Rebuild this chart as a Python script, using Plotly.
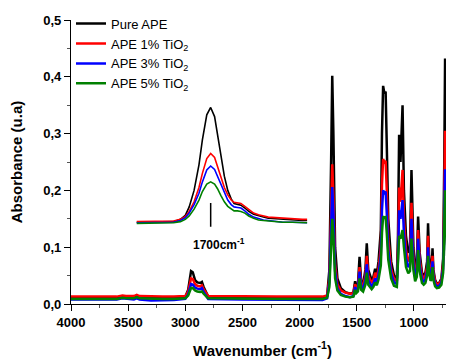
import plotly.graph_objects as go

# ---------------- data ----------------
wavenumber = [4000, 3800, 3600, 3550, 3520, 3450, 3425, 3400, 3300, 3200, 3100, 3000,
              2975, 2950, 2935, 2915, 2895, 2870, 2855, 2840, 2800, 2500, 2200, 2000,
              1900, 1800, 1760, 1740, 1725, 1715, 1705, 1690, 1670, 1640, 1600, 1560,
              1530, 1515, 1505, 1490, 1476, 1462, 1445, 1425, 1413, 1400, 1370, 1355,
              1340, 1325, 1310, 1290, 1280, 1270, 1258, 1248, 1238, 1225, 1200, 1175,
              1150, 1140, 1130, 1118, 1100, 1088, 1070, 1050, 1035, 1022, 1005, 990,
              975, 964, 950, 930, 915, 900, 885, 877, 868, 855, 845, 838, 830, 815,
              800, 780, 760, 745, 735, 728, 720, 710, 700, 680, 650]

pure_ape = [0.010, 0.010, 0.011, 0.013, 0.012, 0.012, 0.014, 0.012, 0.011, 0.011, 0.011, 0.013,
            0.025, 0.058, 0.056, 0.042, 0.038, 0.037, 0.039, 0.030, 0.013, 0.011, 0.011, 0.011,
            0.011, 0.010, 0.014, 0.060, 0.250, 0.402, 0.300, 0.100, 0.045, 0.028, 0.021, 0.018,
            0.020, 0.040, 0.030, 0.035, 0.083, 0.040, 0.035, 0.060, 0.107, 0.060, 0.042, 0.048,
            0.062, 0.052, 0.075, 0.130, 0.300, 0.384, 0.370, 0.374, 0.280, 0.150, 0.075, 0.050,
            0.045, 0.120, 0.298, 0.250, 0.350, 0.200, 0.120, 0.090, 0.100, 0.236, 0.100, 0.062,
            0.075, 0.154, 0.090, 0.055, 0.050, 0.055, 0.075, 0.142, 0.085, 0.060, 0.065, 0.098,
            0.060, 0.042, 0.036, 0.037, 0.045, 0.080, 0.250, 0.432, 0.280, 0.120, 0.095, 0.090,
            0.085]

ape_1 = [0.013, 0.013, 0.013, 0.015, 0.014, 0.014, 0.016, 0.014, 0.013, 0.013, 0.013, 0.014,
         0.022, 0.045, 0.044, 0.035, 0.032, 0.031, 0.033, 0.026, 0.014, 0.013, 0.013, 0.013,
         0.013, 0.013, 0.015, 0.045, 0.160, 0.246, 0.190, 0.070, 0.035, 0.024, 0.020, 0.018,
         0.019, 0.035, 0.027, 0.031, 0.065, 0.036, 0.032, 0.050, 0.085, 0.050, 0.037, 0.042,
         0.055, 0.046, 0.062, 0.100, 0.210, 0.255, 0.250, 0.252, 0.200, 0.115, 0.062, 0.044,
         0.040, 0.095, 0.205, 0.180, 0.236, 0.150, 0.095, 0.075, 0.082, 0.178, 0.082, 0.055,
         0.065, 0.130, 0.078, 0.050, 0.046, 0.050, 0.066, 0.120, 0.074, 0.055, 0.058, 0.085,
         0.055, 0.040, 0.035, 0.036, 0.042, 0.070, 0.190, 0.305, 0.210, 0.105, 0.090, 0.087,
         0.083]

ape_3 = [0.008, 0.008, 0.008, 0.010, 0.009, 0.008, 0.010, 0.008, 0.006, 0.006, 0.007, 0.009,
         0.017, 0.035, 0.034, 0.029, 0.027, 0.026, 0.028, 0.021, 0.009, 0.008, 0.008, 0.008,
         0.007, 0.007, 0.010, 0.038, 0.135, 0.206, 0.160, 0.058, 0.028, 0.018, 0.014, 0.012,
         0.014, 0.030, 0.022, 0.026, 0.057, 0.030, 0.027, 0.042, 0.070, 0.042, 0.031, 0.036,
         0.045, 0.039, 0.052, 0.085, 0.165, 0.200, 0.196, 0.198, 0.160, 0.095, 0.054, 0.038,
         0.035, 0.080, 0.165, 0.150, 0.183, 0.125, 0.080, 0.065, 0.070, 0.150, 0.072, 0.048,
         0.057, 0.115, 0.068, 0.043, 0.040, 0.044, 0.058, 0.100, 0.064, 0.048, 0.051, 0.075,
         0.048, 0.035, 0.031, 0.032, 0.038, 0.062, 0.160, 0.237, 0.170, 0.095, 0.084, 0.082,
         0.079]

ape_5 = [0.009, 0.009, 0.009, 0.011, 0.010, 0.010, 0.012, 0.010, 0.009, 0.009, 0.009, 0.010,
         0.015, 0.028, 0.028, 0.024, 0.022, 0.021, 0.022, 0.018, 0.010, 0.009, 0.009, 0.009,
         0.009, 0.009, 0.011, 0.030, 0.100, 0.150, 0.120, 0.045, 0.024, 0.016, 0.013, 0.012,
         0.013, 0.025, 0.019, 0.022, 0.045, 0.025, 0.022, 0.034, 0.055, 0.034, 0.026, 0.030,
         0.038, 0.033, 0.043, 0.068, 0.125, 0.154, 0.152, 0.153, 0.125, 0.078, 0.045, 0.032,
         0.030, 0.065, 0.120, 0.115, 0.130, 0.100, 0.065, 0.054, 0.058, 0.115, 0.060, 0.040,
         0.048, 0.095, 0.057, 0.037, 0.034, 0.037, 0.050, 0.085, 0.055, 0.041, 0.044, 0.065,
         0.042, 0.031, 0.028, 0.029, 0.034, 0.055, 0.135, 0.200, 0.145, 0.085, 0.079, 0.077,
         0.075]

# inset: enlarged view of the 1700 cm-1 band (plotted on the main absorbance scale)
inset_wn = [1850, 1800, 1774, 1760, 1750, 1742, 1732, 1722, 1715, 1706, 1698, 1690, 1684,
            1677, 1670, 1663, 1656, 1650, 1643, 1636, 1628, 1620, 1610, 1600, 1590, 1580,
            1565, 1550, 1530, 1510, 1500]
inset_pure = [0.144, 0.144, 0.145, 0.149, 0.156, 0.171, 0.200, 0.245, 0.289, 0.333, 0.346, 0.330,
              0.300, 0.260, 0.225, 0.200, 0.185, 0.177, 0.175, 0.174, 0.169, 0.163, 0.158, 0.155,
              0.153, 0.151, 0.150, 0.149, 0.148, 0.147, 0.147]
inset_1 = [0.145, 0.145, 0.146, 0.149, 0.154, 0.163, 0.180, 0.205, 0.230, 0.256, 0.265, 0.258,
           0.243, 0.222, 0.205, 0.192, 0.183, 0.179, 0.178, 0.177, 0.172, 0.166, 0.160, 0.157,
           0.155, 0.153, 0.152, 0.151, 0.150, 0.149, 0.149]
inset_3 = [0.143, 0.143, 0.144, 0.147, 0.152, 0.160, 0.175, 0.195, 0.215, 0.236, 0.243, 0.237,
           0.225, 0.208, 0.194, 0.183, 0.175, 0.171, 0.170, 0.169, 0.164, 0.158, 0.153, 0.150,
           0.148, 0.147, 0.145, 0.144, 0.144, 0.143, 0.143]
inset_5 = [0.142, 0.142, 0.143, 0.145, 0.149, 0.155, 0.167, 0.183, 0.198, 0.211, 0.215, 0.211,
           0.203, 0.191, 0.180, 0.172, 0.167, 0.164, 0.164, 0.163, 0.160, 0.155, 0.151, 0.148,
           0.147, 0.146, 0.145, 0.144, 0.144, 0.143, 0.143]

series_names = ["Pure APE", "APE 1% TiO<sub>2</sub>", "APE 3% TiO<sub>2</sub>", "APE 5% TiO<sub>2</sub>"]
series_colors = ["#000000", "#ff0000", "#0000ff", "#008000"]

x_tick_vals = [4000, 3500, 3000, 2500, 2000, 1500, 1000]
x_tick_text = ["4000", "3500", "3000", "2500", "2000", "1500", "1000"]
y_tick_vals = [0.0, 0.1, 0.2, 0.3, 0.4, 0.5]
y_tick_text = ["0,0", "0,1", "0,2", "0,3", "0,4", "0,5"]

peak_label = "1700cm<sup>-1</sup>"
peak_pos = 1698

# ---------------- figure ----------------
FONT = "Liberation Sans, Arial, sans-serif"
fig = go.Figure()

main_series = [pure_ape, ape_1, ape_3, ape_5]
inset_series = [inset_pure, inset_1, inset_3, inset_5]

for name, color, ys in zip(series_names, series_colors, main_series):
    fig.add_trace(go.Scatter(x=wavenumber, y=ys, mode="lines", name=name,
                             line=dict(color=color, width=2.5), xaxis="x", yaxis="y"))

for name, color, ys in zip(series_names, series_colors, inset_series):
    fig.add_trace(go.Scatter(x=inset_wn, y=ys, mode="lines", name=name, showlegend=False,
                             line=dict(color=color, width=1.6), xaxis="x2", yaxis="y"))

fig.add_shape(type="line", xref="x2", yref="y", x0=peak_pos, x1=peak_pos, y0=0.178, y1=0.136,
              line=dict(color="black", width=1.5))
fig.add_annotation(x=peak_pos, y=0.106, xref="x2", yref="y", text=peak_label, showarrow=False,
                   xanchor="center", xshift=8, font=dict(family=FONT, size=12, color="black", weight="bold"))

# the page places the figure 8 px from the top-left corner; size and margins compensate
fig.update_layout(
    width=446, height=351,
    margin=dict(l=63, r=0, t=12, b=55),
    paper_bgcolor="white", plot_bgcolor="rgba(0,0,0,0)",
    font=dict(family=FONT, color="black"),
    showlegend=True,
    legend=dict(x=0.0, y=1.04, xanchor="left", yanchor="top", bgcolor="rgba(0,0,0,0)",
                font=dict(family=FONT, size=13, color="black"),
                tracegroupgap=0, itemwidth=30),
    xaxis=dict(range=[4000, 650], tickvals=x_tick_vals, ticktext=x_tick_text, automargin=False,
               ticks="outside", ticklen=6, tickwidth=1.2, tickcolor="black",
               minor=dict(dtick=250, ticks="outside", ticklen=3, tickwidth=1, tickcolor="#555"),
               showline=True, linecolor="black", linewidth=1.2, showgrid=False, zeroline=False,
               tickfont=dict(family=FONT, size=13, color="black", weight="bold"),
               title=dict(text="Wavenumber (cm<sup>-1</sup>)", standoff=16,
                          font=dict(family=FONT, size=15, color="black", weight="bold"))),
    yaxis=dict(range=[0, 0.5], tickvals=y_tick_vals, ticktext=y_tick_text, automargin=False,
               ticks="outside", ticklen=6, tickwidth=1.2, tickcolor="black",
               minor=dict(dtick=0.05, ticks="outside", ticklen=3, tickwidth=1, tickcolor="#555"),
               showline=True, linecolor="black", linewidth=1.2, showgrid=False, zeroline=False,
               tickfont=dict(family=FONT, size=13, color="black", weight="bold"),
               title=dict(text="Absorbance (u.a)", standoff=16,
                          font=dict(family=FONT, size=15, color="black", weight="bold"))),
    xaxis2=dict(range=[1850, 1500], domain=[0.171, 0.617], anchor="y", visible=False,
                showgrid=False, zeroline=False),
)

fig.write_html("out.html")
